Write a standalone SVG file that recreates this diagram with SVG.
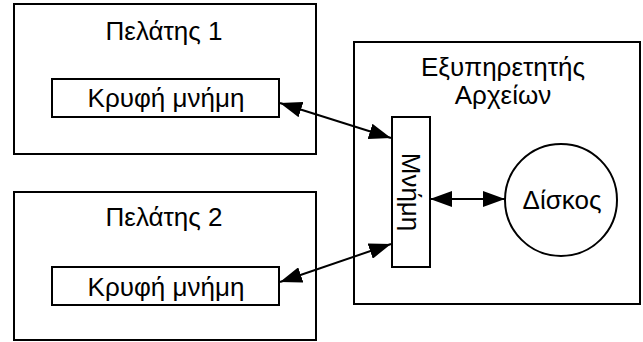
<svg xmlns="http://www.w3.org/2000/svg" width="643" height="342" viewBox="0 0 643 342">
<style>
.box{fill:#fff;stroke:#000;stroke-width:2}
.t{font-family:"Liberation Sans",Arial,sans-serif;font-size:26px;fill:#000;text-anchor:middle}
.c{stroke:#000;stroke-width:2;fill:none}
</style>
<defs>
<marker id="ah" viewBox="0 0 22 16" refX="22" refY="8" markerWidth="22" markerHeight="16" markerUnits="userSpaceOnUse" orient="auto-start-reverse">
<path d="M0,0 L22,8 L0,16 Z" fill="#000"/>
</marker>
</defs>
<rect width="643" height="342" fill="#fff"/>
<g id="client1">
<rect class="box" x="14" y="4" width="302" height="150"/>
<text class="t" x="164" y="40">Πελάτης 1</text>
</g>
<g id="cache1">
<rect class="box" x="52" y="79" width="227" height="38"/>
<text class="t" x="166" y="107">Κρυφή μνήμη</text>
</g>
<g id="client2">
<rect class="box" x="14" y="192" width="302" height="148"/>
<text class="t" x="164" y="226">Πελάτης 2</text>
</g>
<g id="cache2">
<rect class="box" x="52" y="267" width="227" height="38"/>
<text class="t" x="166" y="296">Κρυφή μνήμη</text>
</g>
<g id="server">
<rect class="box" x="354" y="42" width="286" height="262"/>
<text class="t" x="503" y="76">Εξυπηρετητής</text>
<text class="t" x="503" y="104">Αρχείων</text>
</g>
<g id="memory">
<rect class="box" x="392" y="117" width="38" height="150"/>
<text class="t" transform="translate(402,192) rotate(90)" x="0" y="0">Μνήμη</text>
</g>
<g id="disk">
<circle class="box" cx="561" cy="200" r="56"/>
<text class="t" x="562" y="209">Δίσκος</text>
</g>
<g id="connectors">
<line class="c" x1="280" y1="103" x2="391" y2="138" marker-start="url(#ah)" marker-end="url(#ah)"/>
<line class="c" x1="280" y1="282" x2="391" y2="244" marker-start="url(#ah)" marker-end="url(#ah)"/>
<line class="c" x1="430" y1="199" x2="505" y2="199" marker-start="url(#ah)" marker-end="url(#ah)"/>
</g>
</svg>
